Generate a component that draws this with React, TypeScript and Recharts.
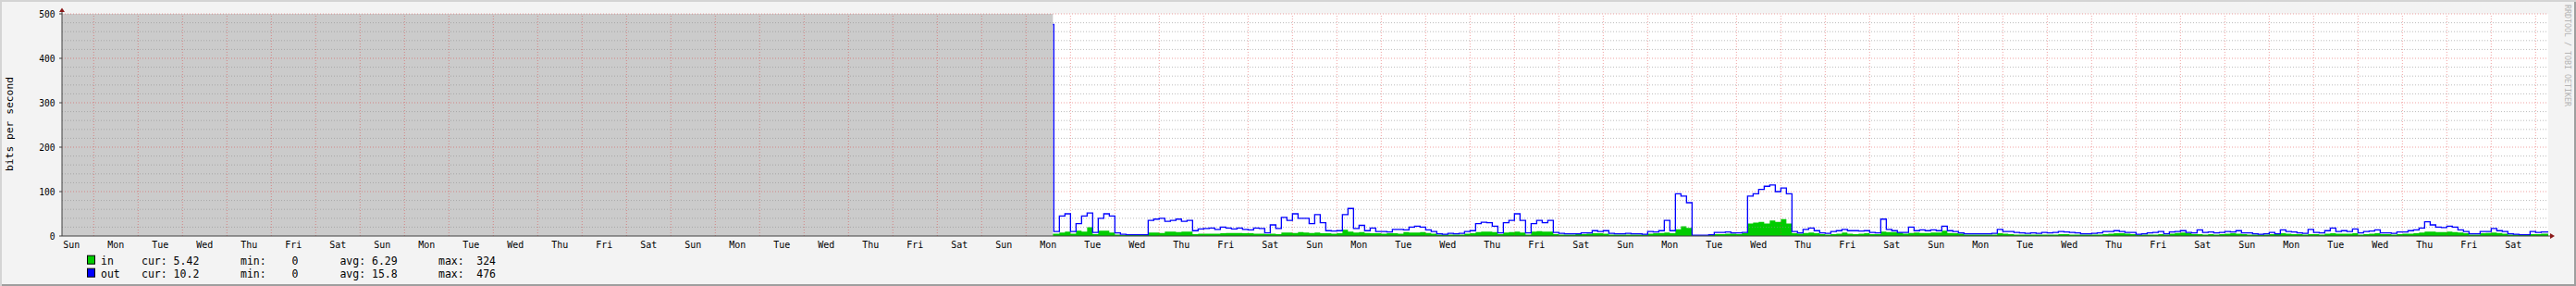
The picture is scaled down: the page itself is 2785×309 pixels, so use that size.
import {
  ComposedChart,
  Area,
  Line,
  XAxis,
  YAxis,
  CartesianGrid,
  ReferenceLine,
  ReferenceArea,
} from "recharts";

// time axis in hours, 0 = first Monday 00:00 shown on the graph
const xStart = -17.17;
const xEnd = 1326.83;
const unknownUntil = 518.5;
const firstHour = 519;
const stepHours = 3;

const dayNames = ["Mon", "Tue", "Wed", "Thu", "Fri", "Sat", "Sun"];

// first sample after the unknown period
const spike = { hour: 518.5, in: 5, out: 476 };

// bits per second, one value every 3 hours from hour 519
const outValues = [
  10, 45, 50, 10, 28, 45, 52, 8, 40, 50, 45, 7, 4, 3, 3, 3, 3, 35, 38, 40, 33, 35, 38, 33, 35, 12, 16, 17, 18, 15, 20, 18, 16, 18, 15, 14, 18, 17, 7, 25, 17, 42, 35, 50, 40,
  40, 28, 48, 30, 12, 11, 12, 48, 62, 17, 24, 12, 18, 10, 10, 9, 15, 15, 14, 20, 22, 20, 14, 10, 5, 4, 6, 5, 6, 10, 12, 28, 31, 30, 22, 7, 30, 35, 50, 35, 7, 28, 35, 30, 35,
  8, 6, 5, 5, 5, 7, 7, 12, 10, 12, 6, 5, 5, 6, 5, 5, 4, 10, 9, 12, 35, 12, 95, 90, 75, 2, 2, 2, 3, 8, 8, 9, 7, 7, 8, 90, 95, 105, 112, 115, 100, 108, 95, 10, 7,
  15, 18, 12, 7, 6, 10, 12, 15, 12, 12, 11, 12, 8, 7, 38, 15, 12, 8, 8, 20, 12, 14, 12, 14, 12, 22, 12, 10, 7, 5, 5, 5, 5, 5, 6, 15, 10, 10, 8, 7, 6, 7, 6, 8, 7,
  8, 10, 9, 8, 7, 5, 5, 6, 7, 10, 10, 12, 10, 8, 8, 4, 5, 7, 8, 10, 5, 9, 10, 12, 8, 7, 14, 8, 9, 7, 8, 10, 9, 12, 7, 7, 5, 4, 5, 8, 5, 14, 10, 9, 7,
  6, 15, 8, 7, 12, 18, 10, 12, 10, 16, 7, 10, 11, 14, 7, 7, 6, 9, 9, 12, 14, 18, 32, 25, 20, 19, 22, 20, 14, 10, 5, 5, 10, 10, 17, 12, 10, 5, 4, 3, 3, 10, 8, 9, 9,
];

const inValues = [
  5, 8, 10, 5, 12, 10, 20, 4, 12, 12, 8, 3, 2, 2, 2, 2, 3, 8, 8, 7, 10, 10, 9, 10, 10, 4, 5, 5, 5, 5, 6, 7, 7, 7, 6, 6, 5, 5, 4, 5, 4, 8, 8, 7, 9,
  8, 7, 8, 6, 6, 5, 6, 14, 10, 8, 9, 7, 6, 6, 5, 6, 6, 5, 9, 8, 8, 9, 7, 5, 3, 3, 3, 3, 3, 5, 6, 9, 10, 10, 9, 4, 8, 9, 10, 8, 3, 10, 11, 10, 10,
  4, 3, 3, 3, 4, 4, 5, 6, 6, 5, 3, 3, 3, 3, 3, 3, 3, 5, 6, 7, 8, 6, 15, 22, 18, 1, 1, 1, 2, 4, 4, 5, 5, 4, 6, 28, 30, 32, 28, 35, 32, 38, 28, 6, 5,
  7, 8, 6, 4, 3, 4, 5, 8, 5, 4, 5, 6, 4, 4, 10, 9, 9, 8, 5, 7, 8, 7, 7, 8, 8, 12, 7, 6, 5, 3, 3, 3, 3, 3, 3, 6, 5, 4, 3, 3, 3, 3, 3, 3, 3,
  3, 4, 4, 3, 3, 3, 3, 3, 3, 4, 5, 6, 6, 5, 4, 3, 3, 3, 3, 4, 3, 5, 7, 8, 6, 4, 4, 3, 4, 3, 4, 5, 6, 5, 4, 3, 3, 3, 3, 4, 4, 6, 5, 4, 4,
  3, 4, 4, 3, 5, 6, 5, 5, 5, 6, 3, 4, 5, 6, 4, 4, 3, 4, 5, 5, 6, 8, 10, 10, 9, 9, 10, 9, 8, 6, 3, 3, 6, 7, 8, 7, 5, 3, 3, 2, 2, 4, 4, 5, 5,
];

const yTicks = [0, 100, 200, 300, 400, 500];
const minorYTicks = [20, 40, 60, 80, 120, 140, 160, 180, 220, 240, 260, 280, 320, 340, 360, 380, 420, 440, 460, 480];

const legendRows = [
  { name: "in", color: "#00cc00", cur: "5.42", min: "0", avg: "6.29", max: "324" },
  { name: "out", color: "#0000ff", cur: "10.2", min: "0", avg: "15.8", max: "476" },
];

const rows = [
  { hour: spike.hour, in: spike.in, out: spike.out },
  ...outValues.map((v, i) => ({ hour: firstHour + i * stepHours, in: inValues[i], out: v })),
  { hour: xEnd, in: inValues[inValues.length - 1], out: outValues[outValues.length - 1] },
];

const midnights = Array.from({ length: 56 }, (_, i) => i * 24);
const noons = Array.from({ length: 56 }, (_, i) => -12 + i * 24);

const MONO = "'DejaVu Sans Mono', monospace";

const dayLabel = (h: number) => dayNames[(((Math.floor(h / 24)) % 7) + 7) % 7];

const DayTick = ({ x, y, payload }: any) => (
  <text x={x} y={y + 13.3} textAnchor="middle" fontFamily={MONO} fontSize={10} fill="#000">
    {dayLabel(payload.value)}
  </text>
);

const ValueTick = ({ x, y, payload }: any) => (
  <text x={x} y={y + 3.7} textAnchor="end" fontFamily={MONO} fontSize={9.6} fill="#000">
    {payload.value}
  </text>
);

export default function App() {
  return (
    <div
      style={{
        position: "absolute",
        left: 0,
        top: 0,
        width: 2785,
        height: 309,
        background: "#f3f3f3",
        boxShadow: "inset 2px 2px 0 #d4d4d4, inset -2px -2px 0 #9e9e9e",
      }}
    >
      <ComposedChart
        width={2785}
        height={309}
        data={rows}
        margin={{ top: 15, right: 30, bottom: 30, left: 7 }}
      >
        <CartesianGrid horizontal={false} vertical={false} fill="#ffffff" />
        <XAxis
          dataKey="hour"
          type="number"
          domain={[xStart, xEnd]}
          ticks={noons}
          interval={0}
          allowDataOverflow
          height={24}
          tickSize={0}
          tickMargin={0}
          tickLine={false}
          axisLine={{ stroke: "#404040" }}
          tick={<DayTick />}
        />
        <YAxis
          type="number"
          domain={[0, 500]}
          ticks={yTicks}
          interval={0}
          allowDataOverflow
          width={60}
          tickSize={3}
          tickMargin={4.5}
          tickLine={{ stroke: "#404040" }}
          axisLine={{ stroke: "#404040" }}
          tick={<ValueTick />}
        />

        {/* unknown data period */}
        <ReferenceArea x1={xStart} x2={unknownUntil} y1={0} y2={500} fill="#cbcbcb" fillOpacity={1} stroke="none" />

        {minorYTicks.map((v) => (
          <ReferenceLine key={"m" + v} y={v} stroke="#8f8f8f" strokeOpacity={0.6} strokeDasharray="1 2" />
        ))}
        {yTicks.slice(1).map((v) => (
          <ReferenceLine key={"M" + v} y={v} stroke="#de3031" strokeOpacity={0.45} strokeDasharray="1 2" />
        ))}
        {midnights.map((h) => (
          <ReferenceLine key={"d" + h} x={h} stroke="#de3031" strokeOpacity={0.45} strokeDasharray="1 2" />
        ))}

        <Area
          type="stepAfter"
          dataKey="in"
          stroke="none"
          fill="#00cc00"
          fillOpacity={1}
          isAnimationActive={false}
        />
        <Line
          type="stepAfter"
          dataKey="out"
          stroke="#0000ff"
          strokeWidth={1.3}
          dot={false}
          isAnimationActive={false}
        />
      </ComposedChart>

      <svg
        width={2785}
        height={309}
        style={{ position: "absolute", left: 0, top: 0, pointerEvents: "none" }}
      >
        {/* axis arrows */}
        <line x1={67} y1={15} x2={67} y2={11} stroke="#404040" />
        <line x1={2755} y1={255} x2={2758} y2={255} stroke="#404040" />
        <polygon points="64,13 70,13 67,8.5" fill="#8b1a1a" />
        <polygon points="2757,252 2757,258 2762,255" fill="#8b1a1a" />

        <text
          transform="translate(14,134) rotate(-90)"
          textAnchor="middle"
          fontFamily={MONO}
          fontSize={11.3}
          fill="#000"
        >
          bits per second
        </text>

        <text
          transform="translate(2772.5,5) rotate(90)"
          textAnchor="start"
          fontFamily={MONO}
          fontSize={8.3}
          fill="#b4b4b4"
        >
          RRDTOOL / TOBI OETIKER
        </text>

        {legendRows.map((r, i) => {
          const base = 285.7 + i * 14;
          return (
            <g key={r.name} fontFamily={MONO} fontSize={11.5} fill="#000">
              <rect x={94.5} y={base - 9.5} width={8} height={9} fill={r.color} stroke="#000" />
              <text x={109} y={base}>{r.name}</text>
              <text x={153} y={base} xmlSpace="preserve">{"cur: " + r.cur}</text>
              <text x={260} y={base}>min:</text>
              <text x={322.5} y={base} textAnchor="end">{r.min}</text>
              <text x={367.4} y={base} xmlSpace="preserve">{"avg: " + r.avg}</text>
              <text x={474} y={base}>max:</text>
              <text x={536} y={base} textAnchor="end">{r.max}</text>
            </g>
          );
        })}
      </svg>
    </div>
  );
}
